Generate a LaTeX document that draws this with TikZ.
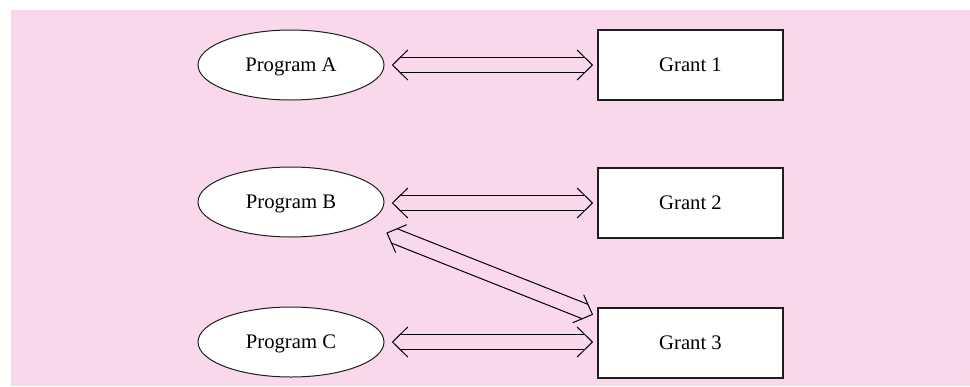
\documentclass[tikz,border=0pt]{standalone}
\usepackage{fontspec}
\setmainfont{Liberation Serif}
\usetikzlibrary{calc,shapes.geometric}
\definecolor{bgpink}{RGB}{249,216,236}
\definecolor{edge}{RGB}{30,30,30}

% open double-line arrow with a V head at both ends, from #1 to #2
\newcommand\dblarrow[2]{%
  \draw[conn] ($(#1)!6pt!(#2)!5.8pt!90:(#2)$) -- ($(#2)!6pt!(#1)!5.8pt!-90:(#1)$);
  \draw[conn] ($(#1)!6pt!(#2)!5.8pt!-90:(#2)$) -- ($(#2)!6pt!(#1)!5.8pt!90:(#1)$);
  \draw[conn] ($(#1)!11.5pt!(#2)!11.25pt!90:(#2)$) -- (#1) -- ($(#1)!11.5pt!(#2)!11.25pt!-90:(#2)$);
  \draw[conn] ($(#2)!11.5pt!(#1)!11.25pt!90:(#1)$) -- (#2) -- ($(#2)!11.5pt!(#1)!11.25pt!-90:(#1)$);
}

\begin{document}
\begin{tikzpicture}[x=0.75pt,y=-0.75pt,
  label text/.style={font=\fontsize{15.5}{18}\selectfont,
    text height=10.3pt,text depth=0pt},
  prog/.style={ellipse,draw=edge,fill=white,line width=0.75pt,
    minimum width=139.5pt,minimum height=52.5pt,inner sep=0pt,label text},
  grant/.style={rectangle,draw=edge,fill=white,line width=0.85pt,
    minimum width=138.75pt,minimum height=52.5pt,inner sep=0pt,label text},
  conn/.style={draw=black,line width=0.75pt,line join=miter}]

  \useasboundingbox (0,0) rectangle (970,386);
  \fill[bgpink] (11,10) rectangle (970,386);

  % programs
  \node[prog] (A) at (291,65) {Program A};
  \node[prog] (B) at (291,202) {Program B};
  \node[prog] (C) at (291,342) {Program C};

  % grants
  \node[grant] (G1) at (690.5,65) {Grant 1};
  \node[grant] (G2) at (690.5,203) {Grant 2};
  \node[grant] (G3) at (690.5,343) {Grant 3};

  % arrow end points
  \coordinate (a1) at ($(A.east)+(8,0)$);
  \coordinate (g1) at ($(G1.west)+(-5,0)$);
  \coordinate (b1) at ($(B.east)+(8,1)$);
  \coordinate (g2) at ($(G2.west)+(-5,0)$);
  \coordinate (b2) at ($(B.center)+(96,31)$);
  \coordinate (g3a) at ($(G3.north west)+(-5,7)$);
  \coordinate (c1) at ($(C.east)+(8,0)$);
  \coordinate (g3) at ($(G3.west)+(-5,-1)$);

  \dblarrow{a1}{g1}
  \dblarrow{b1}{g2}
  \dblarrow{b2}{g3a}
  \dblarrow{c1}{g3}
\end{tikzpicture}
\end{document}
